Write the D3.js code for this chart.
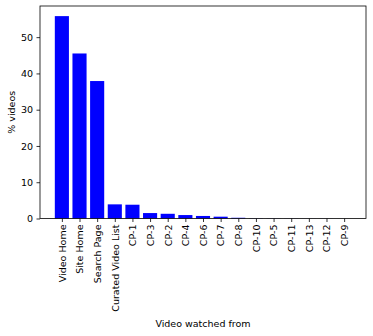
<!DOCTYPE html>
<html>
<head>
<meta charset="utf-8">
<script src="https://cdn.jsdelivr.net/npm/d3@7"></script>
<style>
body{margin:0;background:#fff;}
text{font-family:"DejaVu Sans",sans-serif;}
</style>
</head>
<body>
<div id="canvas"></div>
<script>
const categories = ['Video Home','Site Home','Search Page','Curated Video List','CP-1','CP-3','CP-2','CP-4','CP-6','CP-7','CP-8','CP-10','CP-5','CP-11','CP-13','CP-12','CP-9'];
const values = [55.8, 45.5, 37.9, 3.9, 3.8, 1.5, 1.3, 0.95, 0.7, 0.5, 0.2, 0.05, 0.04, 0.03, 0.02, 0.02, 0.01];
const yTicks = [0, 10, 20, 30, 40, 50];

const W = 373, H = 336;
const M = {t:6, r:7, b:117.5, l:40};
const w = W - M.l - M.r, h = H - M.t - M.b;

const svg = d3.select('#canvas').append('svg')
	.attr('width', W).attr('height', H);

const n = categories.length;
// matplotlib-like 5% margins around the bars
const x = d3.scaleLinear().domain([-0.4 - 0.05*(n-0.2), n-1+0.4 + 0.05*(n-0.2)]).range([0, w]);
const ymax = d3.max(values) * 1.05;
const y = d3.scaleLinear().domain([0, ymax]).range([h, 0]);

const g = svg.append('g').attr('transform','translate('+M.l+','+M.t+')');

g.selectAll('rect').data(values)
	.enter().append('rect')
	.attr('x', (d,i) => x(i - 0.4))
	.attr('width', x(0.8) - x(0))
	.attr('y', d => y(d))
	.attr('height', d => h - y(d))
	.style('fill', '#0000ff');

// y axis
const ya = g.append('g')
	.call(d3.axisLeft(y).tickValues(yTicks).tickSize(3.5).tickPadding(3.5).tickFormat(d3.format('d')));
// x axis
const xa = g.append('g').attr('transform','translate(0,'+h+')')
	.call(d3.axisBottom(x).tickValues(d3.range(n)).tickSize(3.5).tickFormat(i => categories[i]));
xa.selectAll('text')
	.attr('transform','rotate(-90)')
	.attr('x', -6).attr('y', 0).attr('dy', '0.35em')
	.style('text-anchor','end');

[ya, xa].forEach(a => {
	a.select('.domain').remove();
	a.selectAll('text').style('font-size','9.5px').style('fill','#000').style('font-family','"DejaVu Sans",sans-serif');
	a.selectAll('line').style('stroke','#000').style('stroke-width',0.8);
});

// frame
g.append('rect').attr('width', w).attr('height', h)
	.style('fill','none').style('stroke','#000').style('stroke-width',0.8);

svg.append('text')
	.attr('transform','translate(12,'+(M.t + h/2)+') rotate(-90)')
	.style('text-anchor','middle').style('font-size','9.5px')
	.attr('dy','0.35em')
	.text('% videos');

svg.append('text')
	.attr('x', M.l + w/2).attr('y', 327)
	.style('text-anchor','middle').style('font-size','9.5px')
	.text('Video watched from');
</script>
</body>
</html>
